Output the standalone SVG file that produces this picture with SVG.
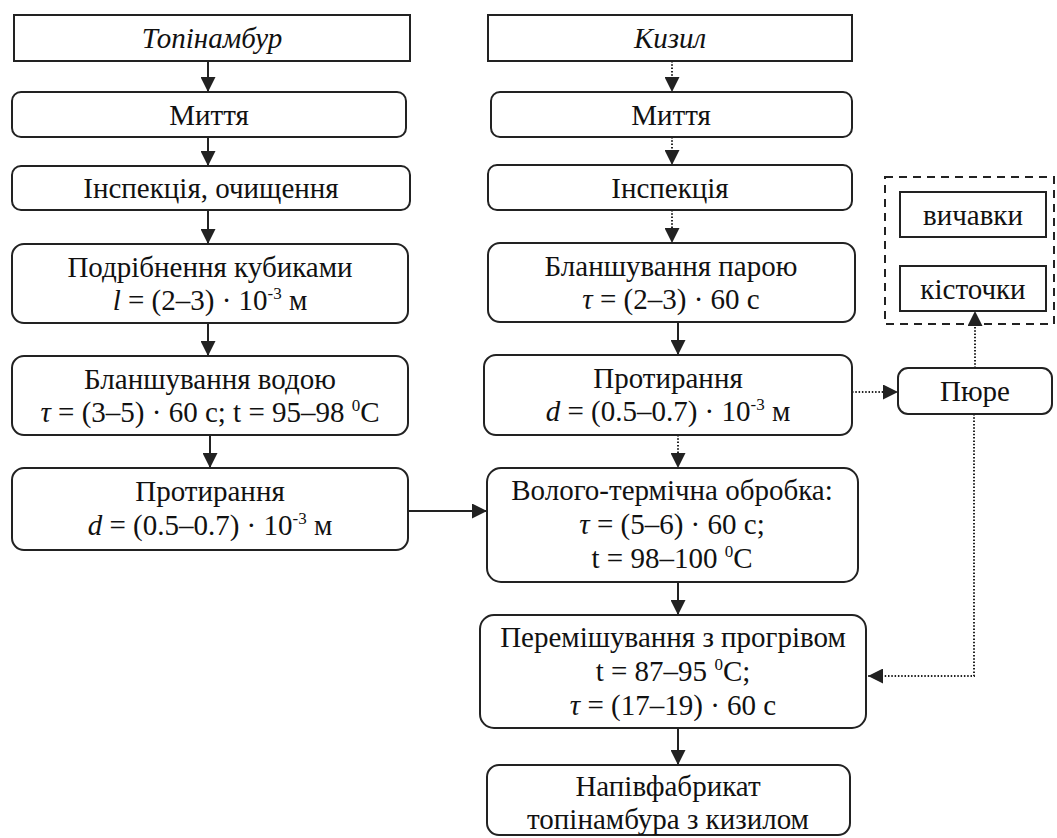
<svg xmlns="http://www.w3.org/2000/svg" width="1057" height="838" viewBox="0 0 1057 838">
<style>
text{font-family:"Liberation Serif","Times New Roman",serif;font-size:29px;fill:#111;text-anchor:middle}
.it{font-style:italic}
.sup{font-size:17px}
.box{fill:#fff;stroke:#222;stroke-width:2}
.ln{fill:none;stroke:#222;stroke-width:2}
.dot{fill:none;stroke:#222;stroke-width:2;stroke-dasharray:1.5 1.8}
.dash{fill:none;stroke:#222;stroke-width:2;stroke-dasharray:8 6}
</style>
<defs>
<marker id="ah" markerUnits="userSpaceOnUse" markerWidth="15" markerHeight="15" refX="15" refY="7.5" orient="auto">
<path d="M0,0 L15,7.5 L0,15 Z" fill="#222"/>
</marker>
</defs>
<rect width="1057" height="838" fill="#fff"/>

<g id="connectors">
<line class="ln" x1="208" y1="61" x2="208" y2="92" marker-end="url(#ah)"/>
<line class="ln" x1="208" y1="137" x2="208" y2="166" marker-end="url(#ah)"/>
<line class="ln" x1="208" y1="210" x2="208" y2="244" marker-end="url(#ah)"/>
<line class="ln" x1="208" y1="323" x2="208" y2="356" marker-end="url(#ah)"/>
<line class="ln" x1="210" y1="435" x2="210" y2="468" marker-end="url(#ah)"/>
<line class="ln" x1="406" y1="511" x2="487" y2="511" marker-end="url(#ah)"/>
<line class="dot" x1="672" y1="61" x2="672" y2="92" marker-end="url(#ah)"/>
<line class="dot" x1="672" y1="137" x2="672" y2="165" marker-end="url(#ah)"/>
<line class="dot" x1="672" y1="210" x2="672" y2="243" marker-end="url(#ah)"/>
<line class="ln" x1="678" y1="322" x2="678" y2="355" marker-end="url(#ah)"/>
<line class="dot" x1="678" y1="435" x2="678" y2="468" marker-end="url(#ah)"/>
<line class="ln" x1="678" y1="582" x2="678" y2="615" marker-end="url(#ah)"/>
<line class="ln" x1="678" y1="728" x2="678" y2="765" marker-end="url(#ah)"/>
<line class="dot" x1="852" y1="392" x2="898" y2="392" marker-end="url(#ah)"/>
<line class="dot" x1="975" y1="368" x2="975" y2="311" marker-end="url(#ah)"/>
<polyline class="dot" points="974,414 974,676 868,676" marker-end="url(#ah)"/>
</g>

<g id="waste-group">
<rect class="dash" x="885" y="177" width="169" height="147"/>
</g>

<g id="n-topinambur"><rect class="box" x="14" y="15" width="396" height="46"/><text class="it" x="212" y="48">Топінамбур</text></g>
<g id="n-myttia1"><rect class="box" x="12" y="92" width="394" height="45" rx="9"/><text x="209" y="125">Миття</text></g>
<g id="n-inspektsiia1"><rect class="box" x="12" y="166" width="398" height="44" rx="9"/><text x="211" y="198">Інспекція, очищення</text></g>
<g id="n-podribnennia"><rect class="box" x="12" y="244" width="396" height="79" rx="12"/><text x="210" y="277">Подрібнення кубиками</text><text x="210" y="310"><tspan class="it">l</tspan> = (2–3) · 10<tspan class="sup" dy="-11">-3</tspan><tspan dy="11"> м</tspan></text></g>
<g id="n-blansh-voda"><rect class="box" x="12" y="356" width="396" height="79" rx="12"/><text x="210" y="389">Бланшування водою</text><text x="210" y="422"><tspan class="it">τ</tspan> = (3–5) · 60 с; t = 95–98 <tspan class="sup" dy="-11">0</tspan><tspan dy="11">C</tspan></text></g>
<g id="n-protyrannia1"><rect class="box" x="12" y="468" width="396" height="82" rx="12"/><text x="210" y="501">Протирання</text><text x="210" y="535"><tspan class="it">d</tspan> = (0.5–0.7) · 10<tspan class="sup" dy="-11">-3</tspan><tspan dy="11"> м</tspan></text></g>

<g id="n-kyzyl"><rect class="box" x="488" y="15" width="364" height="46"/><text class="it" x="670" y="48">Кизил</text></g>
<g id="n-myttia2"><rect class="box" x="491" y="92" width="361" height="45" rx="9"/><text x="671" y="125">Миття</text></g>
<g id="n-inspektsiia2"><rect class="box" x="488" y="165" width="364" height="45" rx="9"/><text x="670" y="198">Інспекція</text></g>
<g id="n-blansh-para"><rect class="box" x="488" y="243" width="367" height="79" rx="12"/><text x="671" y="276">Бланшування парою</text><text x="671" y="309"><tspan class="it">τ</tspan> = (2–3) · 60 с</text></g>
<g id="n-protyrannia2"><rect class="box" x="484" y="355" width="368" height="80" rx="12"/><text x="668" y="388">Протирання</text><text x="668" y="421"><tspan class="it">d</tspan> = (0.5–0.7) · 10<tspan class="sup" dy="-11">-3</tspan><tspan dy="11"> м</tspan></text></g>
<g id="n-voloho"><rect class="box" x="487" y="468" width="371" height="114" rx="14"/><text x="672" y="500">Волого-термічна обробка:</text><text x="672" y="534"><tspan class="it">τ</tspan> = (5–6) · 60 с;</text><text x="672" y="568">t = 98–100 <tspan class="sup" dy="-11">0</tspan><tspan dy="11">C</tspan></text></g>
<g id="n-peremishuvannia"><rect class="box" x="480" y="615" width="386" height="113" rx="14"/><text x="673" y="647">Перемішування з прогрівом</text><text x="673" y="681">t = 87–95 <tspan class="sup" dy="-11">0</tspan><tspan dy="11">C;</tspan></text><text x="673" y="715"><tspan class="it">τ</tspan> = (17–19) · 60 с</text></g>
<g id="n-napivfabrykat"><rect class="box" x="487" y="765" width="363" height="70" rx="12"/><text x="668" y="796">Напівфабрикат</text><text x="668" y="829">топінамбура з кизилом</text></g>

<g id="n-piure"><rect class="box" x="898" y="368" width="154" height="46" rx="10"/><text x="975" y="401">Пюре</text></g>
<g id="n-vychavky"><rect class="box" x="900" y="192" width="146" height="45"/><text x="973" y="225">вичавки</text></g>
<g id="n-kistochky"><rect class="box" x="900" y="266" width="146" height="45"/><text x="973" y="299">кісточки</text></g>
</svg>
